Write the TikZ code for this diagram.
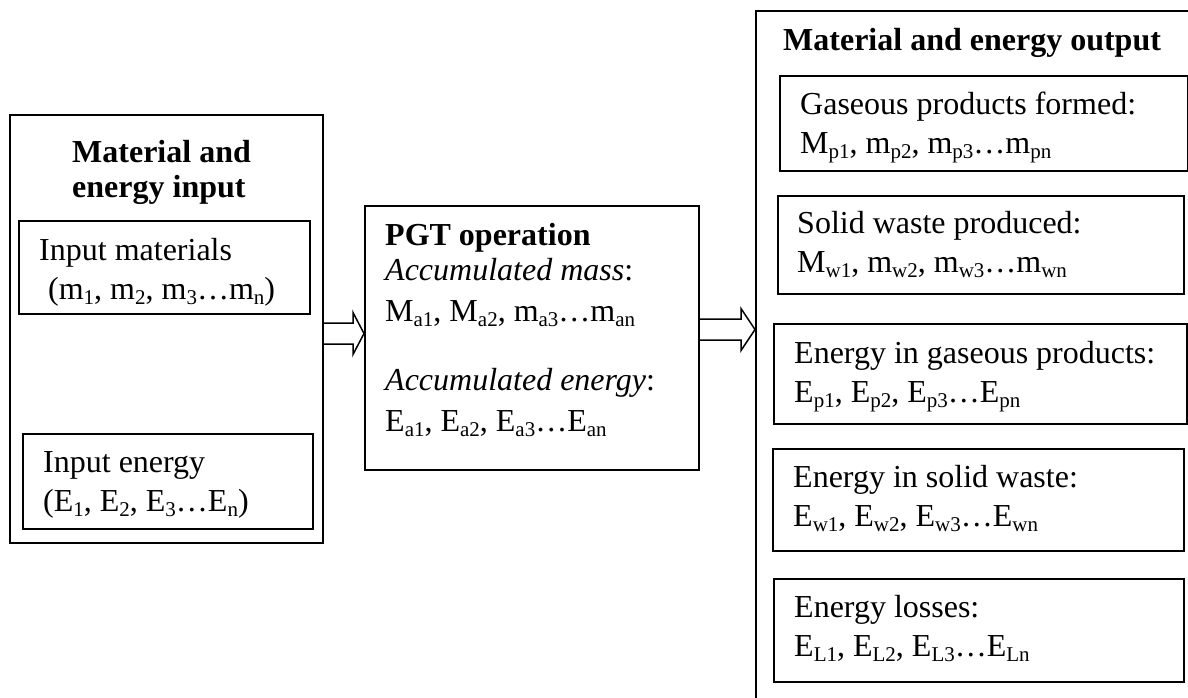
\documentclass[tikz,border=0pt]{standalone}
\usepackage{fontspec}
\setmainfont{Liberation Serif}
\usetikzlibrary{calc}

\newcommand{\lowidx}[1]{\raisebox{-5pt}{\fontsize{21}{21}\selectfont #1}}
\newcommand{\hollowarrow}[4]{%
  \draw[blockarrow] let \p1=(#1.east), \p2=(#2.west) in
    (\x1,#3+10.5) -- (\x2-#4,#3+10.5) -- (\x2-#4,#3+21) -- (\x2,#3)
    -- (\x2-#4,#3-21) -- (\x2-#4,#3-10.5) -- (\x1,#3-10.5);
}

\begin{document}
\begin{tikzpicture}[x=1pt,y=1pt,
  box/.style={draw,line width=1.5pt,inner sep=0pt,anchor=north west},
  txt/.style={inner sep=0pt,align=left,anchor=north west,font=\fontsize{32}{39}\selectfont},
  headtxt/.style={txt,font=\fontsize{32}{39}\selectfont\bfseries},
  blockarrow/.style={line width=1.5pt,line join=miter}]
\useasboundingbox (0,0) rectangle (1188,-697);

\node[box,minimum width=313pt,minimum height=428pt] (inbox) at (9,-114) {};
\node[box,minimum width=291pt,minimum height=93pt] (mat) at (18,-220) {};
\node[box,minimum width=290pt,minimum height=95pt] (ene) at (22,-433) {};
\node[box,minimum width=334pt,minimum height=264pt] (pgt) at (364,-205) {};
\node[box,minimum width=460pt,minimum height=700pt] (outbox) at (755,-10) {};
\node[box,minimum width=408pt,minimum height=95pt] (gas) at (779,-75) {};
\node[box,minimum width=406pt,minimum height=98pt] (sol) at (777,-195) {};
\node[box,minimum width=413pt,minimum height=100pt] (egp) at (773,-323) {};
\node[box,minimum width=411pt,minimum height=102pt] (ews) at (772,-448) {};
\node[box,minimum width=410pt,minimum height=103pt] (elo) at (773,-578) {};

\node[headtxt] (intitle) at ($(inbox.north west)+(63,-26)$) {Material and\\[-4pt]energy input};
\node[txt] (mattxt) at ($(mat.north west)+(21,-18)$) {Input materials\\\hspace*{9pt}(m\lowidx{1}, m\lowidx{2}, m\lowidx{3}…m\lowidx{n})};
\node[txt] (enetxt) at ($(ene.north west)+(21,-18)$) {Input energy\\(E\lowidx{1}, E\lowidx{2}, E\lowidx{3}…E\lowidx{n})};
\node[txt] (pgttxt) at ($(pgt.north west)+(21,-18)$) {\textbf{PGT operation}\\[-4pt]
  \textit{Accumulated mass}:\\[2pt]
  M\lowidx{a1}, M\lowidx{a2}, m\lowidx{a3}…m\lowidx{an}\\[30pt]
  \textit{Accumulated energy}:\\[2pt]
  E\lowidx{a1}, E\lowidx{a2}, E\lowidx{a3}…E\lowidx{an}};
\node[headtxt] (outtitle) at ($(outbox.north west)+(28,-18)$) {Material and energy output};
\node[txt] (gastxt) at ($(gas.north west)+(21,-17)$) {Gaseous products formed:\\M\lowidx{p1}, m\lowidx{p2}, m\lowidx{p3}…m\lowidx{pn}};
\node[txt] (soltxt) at ($(sol.north west)+(20,-16)$) {Solid waste produced:\\M\lowidx{w1}, m\lowidx{w2}, m\lowidx{w3}…m\lowidx{wn}};
\node[txt] (egptxt) at ($(egp.north west)+(21,-18)$) {Energy in gaseous products:\\E\lowidx{p1}, E\lowidx{p2}, E\lowidx{p3}…E\lowidx{pn}};
\node[txt] (ewstxt) at ($(ews.north west)+(21,-17)$) {Energy in solid waste:\\E\lowidx{w1}, E\lowidx{w2}, E\lowidx{w3}…E\lowidx{wn}};
\node[txt] (elotxt) at ($(elo.north west)+(21,-17)$) {Energy losses:\\E\lowidx{L1}, E\lowidx{L2}, E\lowidx{L3}…E\lowidx{Ln}};

\hollowarrow{inbox}{pgt}{-333.5}{11}
\hollowarrow{pgt}{outbox}{-329.5}{14}
\end{tikzpicture}
\end{document}
